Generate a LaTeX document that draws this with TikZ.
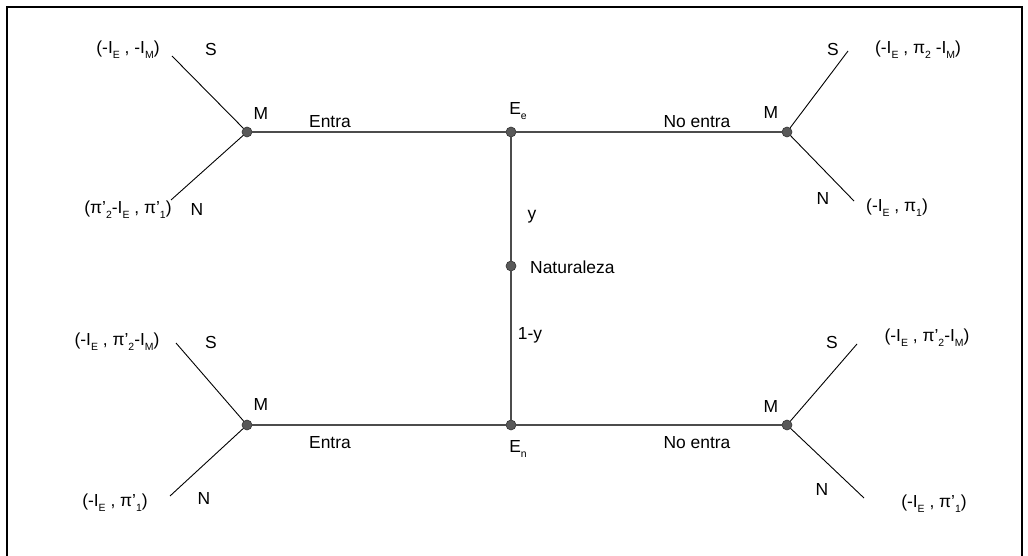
\documentclass[tikz,border=0pt]{standalone}
\usepackage{fontspec}
\setmainfont{Liberation Sans}
\newcommand{\lowsub}[1]{\raisebox{-0.3em}{\fontsize{10.5}{11}\selectfont #1}}
\begin{document}
\begin{tikzpicture}[x=1bp,y=-1bp,
  dot/.style={circle,fill=black!65,draw=black!80,line width=0.6bp,inner sep=0pt,minimum size=10bp},
  main/.style={draw=black!70,line width=1.5bp},
  branch/.style={draw=black,line width=0.9bp},
  lbl/.style={font=\fontsize{17.5}{19}\selectfont,inner sep=0pt}]
\useasboundingbox (0,0) rectangle (1028,556);
\begin{scope}
\clip (0,0) rectangle (1028,556);
\draw[line width=2.5bp] (7,7) rectangle (1022,570);
\end{scope}
% nodes
\node[dot] (mtl) at (247,132) {};
\node[dot] (ee) at (511,132) {};
\node[dot] (nat) at (511,266) {};
\node[dot] (en) at (511,425) {};
\node[dot] (mtr) at (787,132) {};
\node[dot] (mbl) at (247,425) {};
\node[dot] (mbr) at (787,425) {};
% leaf ends
\coordinate (tls) at (172,56);
\coordinate (tln) at (171,200);
\coordinate (trs) at (848,51);
\coordinate (trn) at (854,201);
\coordinate (bls) at (176,343);
\coordinate (bln) at (170,496);
\coordinate (brs) at (857,344);
\coordinate (brn) at (864,498);
% connectors
\draw[main] (mtl) -- (ee);
\draw[main] (ee) -- (mtr);
\draw[main] (mbl) -- (en);
\draw[main] (en) -- (mbr);
\draw[main] (ee) -- (nat);
\draw[main] (nat) -- (en);
\draw[branch] (mtl) -- (tls);
\draw[branch] (mtl) -- (tln);
\draw[branch] (mtr) -- (trs);
\draw[branch] (mtr) -- (trn);
\draw[branch] (mbl) -- (bls);
\draw[branch] (mbl) -- (bln);
\draw[branch] (mbr) -- (brs);
\draw[branch] (mbr) -- (brn);
% labels top-left
\node[lbl] (tlp) at (128,50) {(-I\lowsub{E} , -I\lowsub{M})};
\node[lbl] (tlS) at (211,50) {S};
\node[lbl] (tlM) at (261,114) {M};
\node[lbl] (tlE) at (330,122) {Entra};
\node[lbl] (tlN) at (197,210) {N};
\node[lbl] (tlq) at (128,210) {(π’\lowsub{2}-I\lowsub{E} , π’\lowsub{1})};
% top-right
\node[lbl] (trS) at (833,50) {S};
\node[lbl] (trp) at (918,50) {(-I\lowsub{E} , π\lowsub{2} -I\lowsub{M})};
\node[lbl] (trM) at (771,113) {M};
\node[lbl] (trE) at (697,122) {No entra};
\node[lbl] (trN) at (823,199) {N};
\node[lbl] (trq) at (897,208) {(-I\lowsub{E} , π\lowsub{1})};
% bottom-left
\node[lbl] (blp) at (117,342) {(-I\lowsub{E} , π’\lowsub{2}-I\lowsub{M})};
\node[lbl] (blS) at (211,342) {S};
\node[lbl] (blM) at (261,405) {M};
\node[lbl] (blE) at (330,443) {Entra};
\node[lbl] (blN) at (204,499) {N};
\node[lbl] (blq) at (115,503) {(-I\lowsub{E} , π’\lowsub{1})};
% bottom-right
\node[lbl] (brS) at (832,342) {S};
\node[lbl] (brp) at (927,338) {(-I\lowsub{E} , π’\lowsub{2}-I\lowsub{M})};
\node[lbl] (brM) at (771,407) {M};
\node[lbl] (brE) at (697,443) {No entra};
\node[lbl] (brN) at (822,490) {N};
\node[lbl] (brq) at (934,504) {(-I\lowsub{E} , π’\lowsub{1})};
% center
\node[lbl] (eel) at (518,111) {E\lowsub{e}};
\node[lbl] (yl) at (532,217) {y};
\node[lbl,anchor=west] (natl) at (530,267) {Naturaleza};
\node[lbl] (yl2) at (530,335) {1-y};
\node[lbl] (enl) at (518,449) {E\lowsub{n}};
\end{tikzpicture}
\end{document}
